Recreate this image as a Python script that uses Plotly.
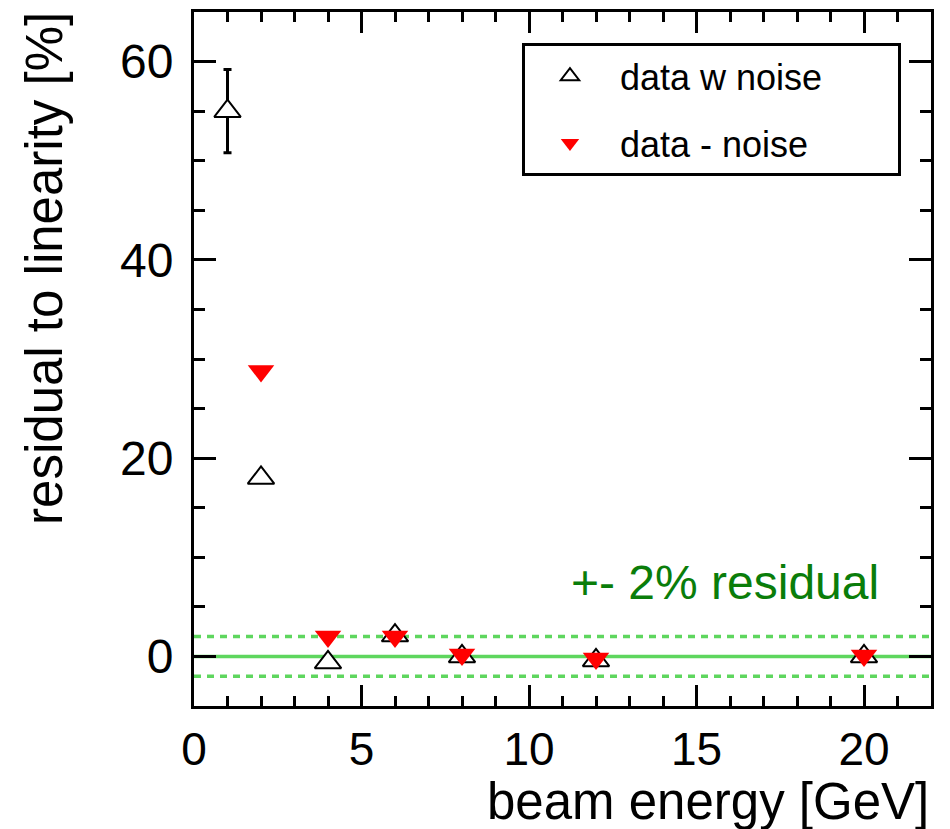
import plotly.graph_objects as go

# ---- data ----
energy_noise = [1, 2, 4, 6, 8, 12, 20]
resid_noise = [55.0, 18.0, -0.6, 2.1, 0.0, -0.4, 0.0]
err_noise = [4.2, 0.0, 0.0, 0.0, 0.0, 0.0, 0.0]

energy_sub = [2, 4, 6, 8, 12, 20]
resid_sub = [28.8, 2.0, 2.0, 0.2, -0.2, 0.1]

band_levels = [0, 2, -2]
band_label = "+- 2% residual"

x_title = "beam energy [GeV]"
y_title = "residual to linearity [%]"
legend_names = ["data w noise", "data - noise"]

FONT = "Liberation Sans, Arial, Helvetica, sans-serif"
GREEN_LINE = "#5ed65e"
GREEN_TEXT = "#0a7d0a"
NB = "\u00a0"

fig = go.Figure()

fig.add_trace(go.Scatter(
    x=energy_noise, y=resid_noise, mode="markers",
    name=NB * 3 + legend_names[0] + NB * 7,
    legendgroup="a",
    marker=dict(symbol="triangle-up", size=23, color="white",
                line=dict(color="black", width=2)),
    error_y=dict(type="data", array=err_noise, visible=True,
                 color="black", thickness=3, width=4),
))
fig.add_trace(go.Scatter(
    x=energy_sub, y=resid_sub, mode="markers",
    name=NB * 3 + legend_names[1],
    legendgroup="b",
    marker=dict(symbol="triangle-down", size=23, color="red",
                line=dict(color="red", width=0)),
))

# reference lines at 0 and +-2 %
for lv in band_levels:
    fig.add_shape(type="line", xref="paper", yref="y", x0=0, x1=1, y0=lv, y1=lv,
                  line=dict(color=GREEN_LINE, width=3.5,
                            dash="solid" if lv == 0 else "7px,6px"),
                  layer="below")

fig.add_annotation(x=11.2, y=7.5, xref="x", yref="y", text=band_label,
                   showarrow=False, xanchor="left", yanchor="middle",
                   font=dict(family=FONT, size=48, color=GREEN_TEXT))

# axis titles
fig.add_annotation(x=1.0, y=-0.137, xref="paper", yref="paper", text=x_title,
                   showarrow=False, xanchor="right", yanchor="middle",
                   font=dict(family=FONT, size=51, color="black"))
fig.add_annotation(x=-0.202, y=0.630, xref="paper", yref="paper", text=y_title,
                   showarrow=False, textangle=-90, xanchor="center", yanchor="middle",
                   font=dict(family=FONT, size=51, color="black"))

axis_common = dict(
    showline=True, linecolor="black", linewidth=3, mirror="ticks",
    ticks="inside", tickcolor="black", tickwidth=3,
    showgrid=False, zeroline=False, automargin=False,
)

fig.update_xaxes(range=[0, 22], tickmode="linear", tick0=0, dtick=5, ticklen=21,
                 minor=dict(ticks="inside", tick0=0, dtick=1, ticklen=10,
                            tickwidth=3, tickcolor="black", showgrid=False),
                 ticklabelstandoff=1,
                 tickfont=dict(family=FONT, size=46, color="black"),
                 **axis_common)
fig.update_yaxes(range=[-5, 65], tickmode="linear", tick0=0, dtick=20, ticklen=22,
                 minor=dict(ticks="inside", tick0=0, dtick=5, ticklen=11,
                            tickwidth=3, tickcolor="black", showgrid=False),
                 ticklabelstandoff=8,
                 tickfont=dict(family=FONT, size=48, color="black"),
                 **axis_common)

fig.update_layout(
    width=942, height=821,
    margin=dict(l=186, r=19, t=4, b=123),
    paper_bgcolor="white", plot_bgcolor="white",
    showlegend=True,
    legend=dict(x=0.445, y=0.955, xanchor="left", yanchor="top",
                bordercolor="black", borderwidth=3, bgcolor="white",
                font=dict(family=FONT, size=36, color="black"),
                traceorder="grouped", tracegroupgap=17,
                indentation=25, itemsizing="trace"),
)

fig.write_html("out.html")
